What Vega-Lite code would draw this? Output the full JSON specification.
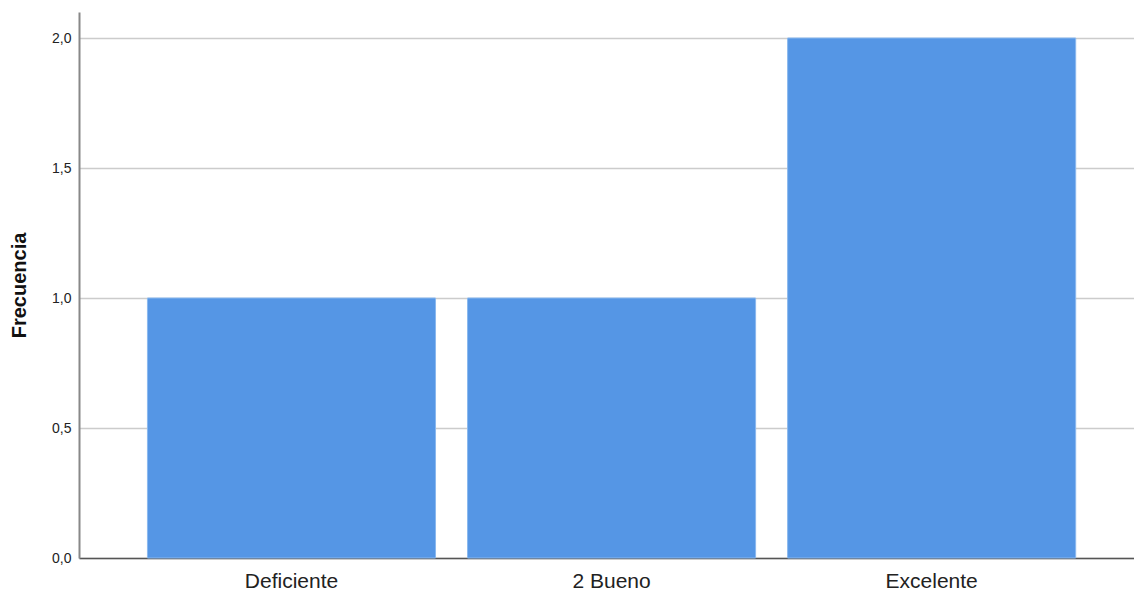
{
  "$schema": "https://vega.github.io/schema/vega-lite/v6.json",
  "width": 1055,
  "height": 546,
  "autosize": "none",
  "padding": {"left": 79, "top": 12, "right": 0, "bottom": 34},
  "background": "white",
  "config": {
    "view": {"stroke": null},
    "font": "Liberation Sans"
  },
  "data": {
    "values": [
      {"categoria": "Deficiente", "frecuencia": 1},
      {"categoria": "2 Bueno", "frecuencia": 1},
      {"categoria": "Excelente", "frecuencia": 2}
    ]
  },
  "mark": {"type": "bar", "color": "#5596e5", "stroke": "#8ab8ee", "strokeWidth": 1},
  "encoding": {
    "x": {
      "field": "categoria",
      "type": "nominal",
      "sort": null,
      "scale": {"paddingInner": 0.1, "paddingOuter": 0.198, "align": 0.54},
      "axis": {
        "title": null,
        "labelAngle": 0,
        "labelFontSize": 21,
        "labelColor": "#222222",
        "labelFont": "Liberation Sans",
        "labelPadding": 12,
        "ticks": false,
        "domainColor": "#555555",
        "domainWidth": 1.5,
        "grid": false
      }
    },
    "y": {
      "field": "frecuencia",
      "type": "quantitative",
      "scale": {"domain": [0, 2.1], "nice": false},
      "axis": {
        "title": "Frecuencia",
        "titleFontSize": 20,
        "titleFontWeight": "bold",
        "titleColor": "#111111",
        "titleFont": "Liberation Sans",
        "titlePadding": 22,
        "values": [0, 0.5, 1, 1.5, 2],
        "labelExpr": "replace(format(datum.value, '.1f'), '.', ',')",
        "labelFontSize": 14,
        "labelColor": "#222222",
        "labelPadding": 8,
        "ticks": false,
        "domainColor": "#888888",
        "domainWidth": 2,
        "grid": true,
        "gridColor": "#cccccc",
        "gridWidth": 1.5
      }
    }
  }
}
